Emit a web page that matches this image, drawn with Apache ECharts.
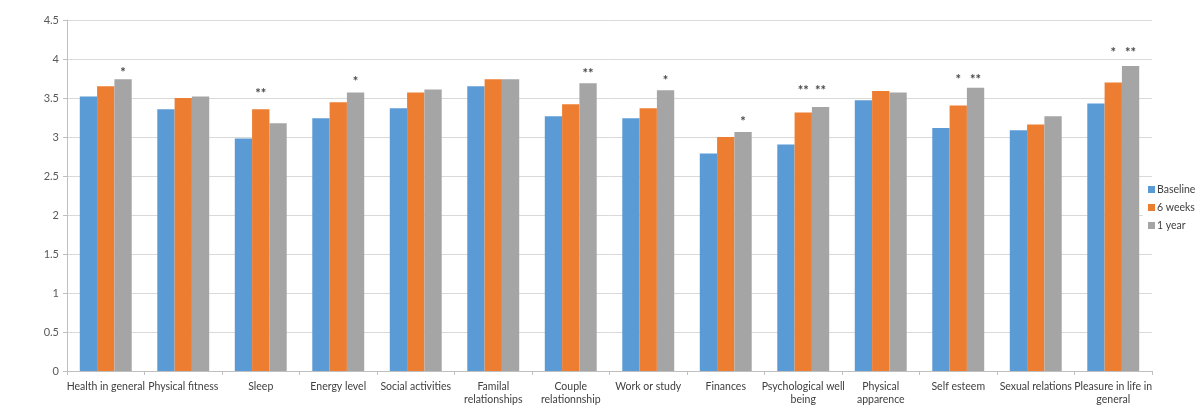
<!DOCTYPE html>
<html>
<head>
<meta charset="utf-8">
<script src="https://cdn.jsdelivr.net/npm/echarts@6/dist/echarts.min.js"></script>
<style>html,body{margin:0;padding:0;background:#fff;}#c{width:1200px;height:411px;}</style>
</head>
<body>
<div id="c"></div>
<script>
const categories = ['Health in general', 'Physical fitness', 'Sleep', 'Energy level', 'Social activities',
  'Familal\nrelationships', 'Couple\nrelationnship', 'Work or study', 'Finances', 'Psychological well\nbeing',
  'Physical\napparence', 'Self esteem', 'Sexual relations', 'Pleasure in life in\ngeneral'];
const baseline = [3.52, 3.355, 2.98, 3.24, 3.37, 3.65, 3.265, 3.24, 2.79, 2.905, 3.47, 3.115, 3.085, 3.43];
const sixWeeks = [3.65, 3.50, 3.355, 3.445, 3.57, 3.74, 3.42, 3.37, 3.00, 3.315, 3.59, 3.405, 3.16, 3.70];
const oneYear  = [3.74, 3.52, 3.175, 3.57, 3.61, 3.74, 3.69, 3.60, 3.065, 3.385, 3.57, 3.63, 3.265, 3.91];
const sig6Weeks = ['', '', '**', '', '', '', '', '', '', '**', '', '*', '', '*'];
const sig1Year  = ['*', '', '', '*', '', '', '**', '*', '*', '**', '', '**', '', '**'];
const sigLevel  = [3.87, null, 3.61, 3.76, null, null, 3.86, 3.77, 3.25, 3.64, null, 3.79, null, 4.13];
const yTicks = { min: 0, max: 4.5, interval: 0.5 };

const font = 'Lato, "Open Sans", sans-serif';
const chart = echarts.init(document.getElementById('c'), null, { renderer: 'canvas' });

function sigData(marks) {
  const out = [];
  marks.forEach((m, i) => { if (m) out.push({ value: [i, sigLevel[i]], mark: m }); });
  return out;
}
function sigSeries(marks, dx) {
  return {
    type: 'scatter', data: sigData(marks), symbolSize: 1, symbol: 'rect',
    itemStyle: { color: 'rgba(0,0,0,0)' }, silent: true, z: 5,
    label: { show: true, position: 'inside', offset: [dx, 4], color: '#111', fontSize: 13, fontWeight: 'bold', fontFamily: font,
      formatter: p => p.data.mark }
  };
}

chart.setOption({
  animation: false,
  textStyle: { fontFamily: font },
  grid: { left: 67, right: 48, top: 20, bottom: 40, containLabel: false },
  legend: {
    orient: 'vertical', left: 1143, top: 179,
    itemWidth: 7, itemHeight: 7, itemGap: 7,
    icon: 'rect',
    textStyle: { fontSize: 10.5, color: '#404040', fontFamily: font, padding: [0, 0, 0, -3] },
    backgroundColor: '#fff',
    data: ['Baseline', '6 weeks', '1 year']
  },
  xAxis: {
    type: 'category', data: categories,
    axisLine: { lineStyle: { color: '#BFBFBF' } },
    axisTick: { show: true, length: 4, lineStyle: { color: '#BFBFBF' } },
    axisLabel: { color: '#404040', fontSize: 10.5, margin: 9, interval: 0, lineHeight: 13, fontFamily: font }
  },
  yAxis: {
    type: 'value', min: yTicks.min, max: yTicks.max, interval: yTicks.interval,
    axisLine: { show: true, lineStyle: { color: '#BFBFBF' } },
    axisTick: { show: true, length: 4, lineStyle: { color: '#BFBFBF' } },
    axisLabel: { color: '#595959', fontSize: 11, margin: 8, fontFamily: font },
    splitLine: { lineStyle: { color: '#D9D9D9' } }
  },
  series: [
    { name: 'Baseline', type: 'bar', data: baseline, itemStyle: { color: '#5B9BD5' }, barGap: '0%', barCategoryGap: '33%' },
    { name: '6 weeks', type: 'bar', data: sixWeeks, itemStyle: { color: '#ED7D31' }, barGap: '0%', barCategoryGap: '33%' },
    { name: '1 year', type: 'bar', data: oneYear, itemStyle: { color: '#A5A5A5' }, barGap: '0%', barCategoryGap: '33%' },
    sigSeries(sig6Weeks, 0),
    sigSeries(sig1Year, 17.3)
  ]
});
</script>
</body>
</html>
